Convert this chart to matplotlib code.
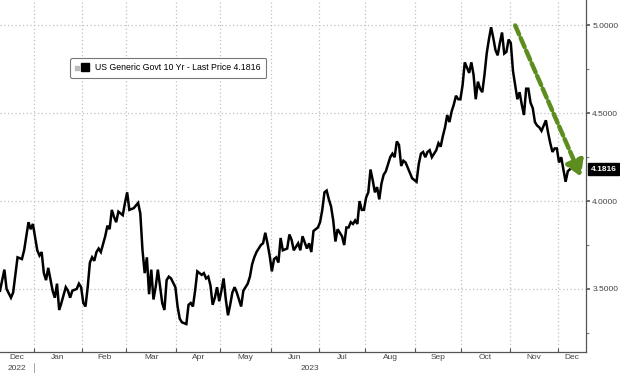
import numpy as np
import matplotlib.pyplot as plt
import matplotlib.transforms as mtransforms
from matplotlib.lines import Line2D

plt.rcParams['font.family'] = ['Liberation Sans', 'DejaVu Sans']

# US 10Y generic yield (trading days)
dates = [
    '2022-12-09', '2022-12-13', '2022-12-14', '2022-12-16', '2022-12-19', '2022-12-21',
    '2022-12-23', '2022-12-26', '2022-12-28', '2022-12-29', '2022-12-30',
    '2023-01-03', '2023-01-04', '2023-01-05', '2023-01-06', '2023-01-09', '2023-01-10',
    '2023-01-12', '2023-01-13', '2023-01-16', '2023-01-17', '2023-01-18', '2023-01-20',
    '2023-01-23', '2023-01-24', '2023-01-25', '2023-01-27', '2023-01-30', '2023-01-31',
    '2023-02-01', '2023-02-02', '2023-02-03', '2023-02-06', '2023-02-07', '2023-02-08',
    '2023-02-09', '2023-02-10', '2023-02-13', '2023-02-15', '2023-02-16', '2023-02-17',
    '2023-02-20', '2023-02-21', '2023-02-22', '2023-02-23', '2023-02-27', '2023-02-28',
    '2023-03-01', '2023-03-02', '2023-03-06', '2023-03-08', '2023-03-09', '2023-03-10',
    '2023-03-13', '2023-03-14', '2023-03-15', '2023-03-16', '2023-03-17', '2023-03-20',
    '2023-03-21', '2023-03-23', '2023-03-24', '2023-03-27', '2023-03-28', '2023-03-29',
    '2023-03-31', '2023-04-03', '2023-04-04', '2023-04-05', '2023-04-07', '2023-04-10',
    '2023-04-11', '2023-04-12', '2023-04-13', '2023-04-14', '2023-04-18', '2023-04-19',
    '2023-04-20', '2023-04-21', '2023-04-24', '2023-04-25', '2023-04-26', '2023-04-27',
    '2023-04-28', '2023-05-01', '2023-05-02', '2023-05-03', '2023-05-04', '2023-05-05',
    '2023-05-08', '2023-05-09', '2023-05-10', '2023-05-12', '2023-05-15', '2023-05-17',
    '2023-05-18', '2023-05-19', '2023-05-22', '2023-05-23', '2023-05-25', '2023-05-26',
    '2023-05-29', '2023-05-30', '2023-05-31', '2023-06-01', '2023-06-02', '2023-06-05',
    '2023-06-06', '2023-06-07', '2023-06-08', '2023-06-12', '2023-06-13', '2023-06-14',
    '2023-06-15', '2023-06-19', '2023-06-20', '2023-06-21', '2023-06-23', '2023-06-26',
    '2023-06-27', '2023-06-28', '2023-06-30', '2023-07-03', '2023-07-04', '2023-07-05',
    '2023-07-06', '2023-07-07', '2023-07-10', '2023-07-11', '2023-07-12', '2023-07-13',
    '2023-07-14', '2023-07-17', '2023-07-18', '2023-07-19', '2023-07-20', '2023-07-21',
    '2023-07-24', '2023-07-25', '2023-07-26', '2023-07-27', '2023-07-28', '2023-07-31',
    '2023-08-01', '2023-08-02', '2023-08-03', '2023-08-04', '2023-08-07', '2023-08-08',
    '2023-08-09', '2023-08-10', '2023-08-11', '2023-08-14', '2023-08-15', '2023-08-16',
    '2023-08-17', '2023-08-18', '2023-08-21', '2023-08-22', '2023-08-23', '2023-08-24',
    '2023-08-25', '2023-08-28', '2023-08-30', '2023-08-31', '2023-09-01', '2023-09-04',
    '2023-09-05', '2023-09-06', '2023-09-07', '2023-09-08', '2023-09-11', '2023-09-12',
    '2023-09-14', '2023-09-15', '2023-09-18', '2023-09-19', '2023-09-20', '2023-09-21',
    '2023-09-22', '2023-09-25', '2023-09-26', '2023-09-27', '2023-09-28', '2023-09-29',
    '2023-10-02', '2023-10-03', '2023-10-04', '2023-10-05', '2023-10-06', '2023-10-09',
    '2023-10-10', '2023-10-11', '2023-10-12', '2023-10-13', '2023-10-16', '2023-10-17',
    '2023-10-18', '2023-10-19', '2023-10-20', '2023-10-23', '2023-10-24', '2023-10-25',
    '2023-10-26', '2023-10-27', '2023-10-30', '2023-10-31', '2023-11-01', '2023-11-02',
    '2023-11-03', '2023-11-06', '2023-11-07', '2023-11-08', '2023-11-09', '2023-11-10',
    '2023-11-13', '2023-11-14', '2023-11-15', '2023-11-16', '2023-11-17', '2023-11-20',
    '2023-11-21', '2023-11-22', '2023-11-23', '2023-11-24', '2023-11-27', '2023-11-28',
    '2023-11-29', '2023-11-30', '2023-12-01', '2023-12-04', '2023-12-05', '2023-12-06',
    '2023-12-07', '2023-12-08',
]
yields = [
    3.49, 3.61, 3.50, 3.45, 3.48, 3.68,
    3.67, 3.72, 3.88, 3.84, 3.87,
    3.72, 3.69, 3.71, 3.59, 3.55, 3.62,
    3.49, 3.45, 3.53, 3.38, 3.42, 3.51,
    3.49, 3.45, 3.49, 3.50, 3.53, 3.51,
    3.42, 3.40, 3.51, 3.65, 3.68, 3.66,
    3.71, 3.73, 3.71, 3.80, 3.86, 3.84,
    3.95, 3.91, 3.88, 3.94, 3.92, 3.99,
    4.05, 3.95, 3.96, 3.99, 3.93, 3.72,
    3.59, 3.68, 3.47, 3.61, 3.44, 3.51,
    3.61, 3.42, 3.38, 3.55, 3.57, 3.56,
    3.51, 3.40, 3.33, 3.31, 3.30, 3.41,
    3.42, 3.40, 3.49, 3.60, 3.58, 3.59,
    3.56, 3.57, 3.52, 3.41, 3.45, 3.51,
    3.43, 3.49, 3.56, 3.44, 3.35, 3.41,
    3.48, 3.51, 3.48, 3.40, 3.49, 3.53,
    3.57, 3.64, 3.68, 3.71, 3.75, 3.76,
    3.82, 3.76, 3.69, 3.60, 3.67, 3.68,
    3.65, 3.79, 3.72, 3.73, 3.81, 3.78,
    3.72, 3.76, 3.72, 3.80, 3.73, 3.76,
    3.71, 3.83, 3.85, 3.88, 3.95, 4.05,
    4.06, 4.01, 3.97, 3.89, 3.77, 3.84,
    3.82, 3.80, 3.75, 3.85, 3.85, 3.88,
    3.87, 3.89, 3.87, 4.00, 3.95, 3.95,
    4.02, 4.05, 4.18, 4.12, 4.05, 4.08,
    4.01, 4.10, 4.15, 4.17, 4.21, 4.25,
    4.27, 4.25, 4.34, 4.32, 4.20, 4.23,
    4.22, 4.19, 4.13, 4.12, 4.11, 4.21,
    4.27, 4.28, 4.25, 4.28, 4.29, 4.25,
    4.29, 4.33, 4.31, 4.37, 4.42, 4.49,
    4.45, 4.51, 4.55, 4.60, 4.58, 4.58,
    4.66, 4.79, 4.76, 4.73, 4.79, 4.72,
    4.58, 4.68, 4.64, 4.62, 4.72, 4.84,
    4.92, 4.99, 4.93, 4.86, 4.83, 4.90,
    4.96, 4.84, 4.85, 4.92, 4.90, 4.74,
    4.66, 4.58, 4.62, 4.55, 4.49, 4.64,
    4.64, 4.56, 4.53, 4.45, 4.43, 4.42,
    4.40, 4.43, 4.46, 4.39, 4.33, 4.28,
    4.30, 4.30, 4.22, 4.25, 4.18, 4.11,
    4.17, 4.1816,
]
last_price = 4.1816
series_label = 'US Generic Govt 10 Yr - Last Price 4.1816'

month_starts = ['2022-12-01', '2023-01-01', '2023-02-01', '2023-03-01', '2023-04-01',
                '2023-05-01', '2023-06-01', '2023-07-01', '2023-08-01', '2023-09-01',
                '2023-10-01', '2023-11-01', '2023-12-01']
month_names = ['Dec', 'Jan', 'Feb', 'Mar', 'Apr', 'May', 'Jun', 'Jul', 'Aug', 'Sep',
               'Oct', 'Nov', 'Dec']
year_labels = ['2022', '2023']
y_major = [3.5, 4.0, 4.5, 5.0]
y_minor = [3.25, 3.75, 4.25, 4.75]

# green trend arrow (date, value)
arrow_from = ('2023-11-03', 5.0)
arrow_to = ('2023-12-15', 4.14)

# x axis in trading days (weekends squeezed out), day 0 = first day of 2023
base = np.datetime64('2023-01-02')
def tday(d):
    return np.busday_count(base, np.array(d, dtype='datetime64[D]'))

x = tday(dates)
y = np.array(yields)

x_lo, x_hi = -16.0, 251.3
firsts = np.busday_offset(np.array(month_starts, dtype='datetime64[D]'), 0, roll='forward')
bounds = tday(firsts) - 0.5
edges = np.clip(np.append(bounds, x_hi), x_lo, x_hi)
mids = (edges[:-1] + edges[1:]) / 2

fig = plt.figure(figsize=(6.2, 3.73), dpi=100)
ax = fig.add_axes([0, 21 / 373, 586 / 620, 352 / 373])

grid_kw = dict(color='#c0c0c0', lw=0.9, ls=(0, (1, 2)), zorder=0)
for b in bounds[1:]:
    ax.axvline(b, **grid_kw)
for v in y_major:
    ax.axhline(v, **grid_kw)

ax.plot(x, y, color='black', lw=1.8, solid_joinstyle='miter', zorder=3)

ax.set_xlim(x_lo, x_hi)
ax.set_ylim(3.141, 5.145)

for s in ['left', 'top']:
    ax.spines[s].set_visible(False)
for s in ['right', 'bottom']:
    ax.spines[s].set_color('#555555')
    ax.spines[s].set_linewidth(0.9)

# y axis on the right
ax.yaxis.tick_right()
ax.set_yticks(y_major)
ax.set_yticks(y_minor, minor=True)
ax.set_yticklabels([f'{v:.4f}' for v in y_major])
ax.tick_params(axis='y', which='major', direction='out', length=3, width=1.2,
               color='#555555', pad=1.5, labelsize=6, labelcolor='#444444')
ax.tick_params(axis='y', which='minor', direction='out', length=2, width=0.8,
               color='#777777')

# x axis: ticks at month boundaries, names centred in the month
ax.set_xticks(bounds[1:])
ax.set_xticklabels([])
ax.set_xticks(mids, minor=True)
ax.set_xticklabels(month_names, minor=True)
ax.tick_params(axis='x', which='major', direction='in', length=3, width=0.8,
               color='#555555')
ax.tick_params(axis='x', which='minor', length=0, pad=1.5, labelsize=6,
               labelcolor='#444444')

trans = mtransforms.blended_transform_factory(ax.transData, ax.transAxes)
ax.text(mids[0], -0.038, year_labels[0], transform=trans, ha='center', va='top',
        fontsize=6, color='#444444')
ax.text((bounds[1] + x_hi) / 2, -0.038, year_labels[1], transform=trans, ha='center',
        va='top', fontsize=6, color='#444444')
ax.plot([bounds[1], bounds[1]], [-0.03, -0.06], transform=trans, color='#999999',
        lw=0.6, clip_on=False)

# legend box
h = Line2D([], [], marker='s', color='black', ls='none', markersize=6)
leg = ax.legend([h], [series_label], loc='upper left',
                bbox_to_anchor=(70 / 586, 1 - 58 / 352), fontsize=6.3,
                handlelength=2.2, handletextpad=0.1, borderpad=0.6,
                borderaxespad=0, frameon=True, fancybox=True, framealpha=1,
                edgecolor='#777777')
leg.get_frame().set_linewidth(0.8)
ax.plot([77 / 586], [1 - 68 / 352], marker='s', markersize=3, color='#bbbbbb',
        transform=ax.transAxes, clip_on=False, zorder=6)

# last price tag
tag_trans = mtransforms.blended_transform_factory(ax.transAxes, ax.transData)
ax.text(1.008, last_price, f'{last_price:.4f}', transform=tag_trans, ha='left',
        va='center', fontsize=6, color='white', fontweight='bold',
        bbox=dict(boxstyle='square,pad=0.3', fc='black', ec='black'))

# green dashed trend arrow
ax.annotate('', xy=(tday(arrow_to[0]), arrow_to[1]),
            xytext=(tday(arrow_from[0]), arrow_from[1]),
            arrowprops=dict(arrowstyle='-|>,head_length=0.9,head_width=0.55',
                            color='#5c8d1e', lw=3.2, ls=(0, (2.2, 0.9)),
                            shrinkA=0, shrinkB=0),
            zorder=4)

fig.savefig('out.png', dpi=100)
plt.close(fig)
